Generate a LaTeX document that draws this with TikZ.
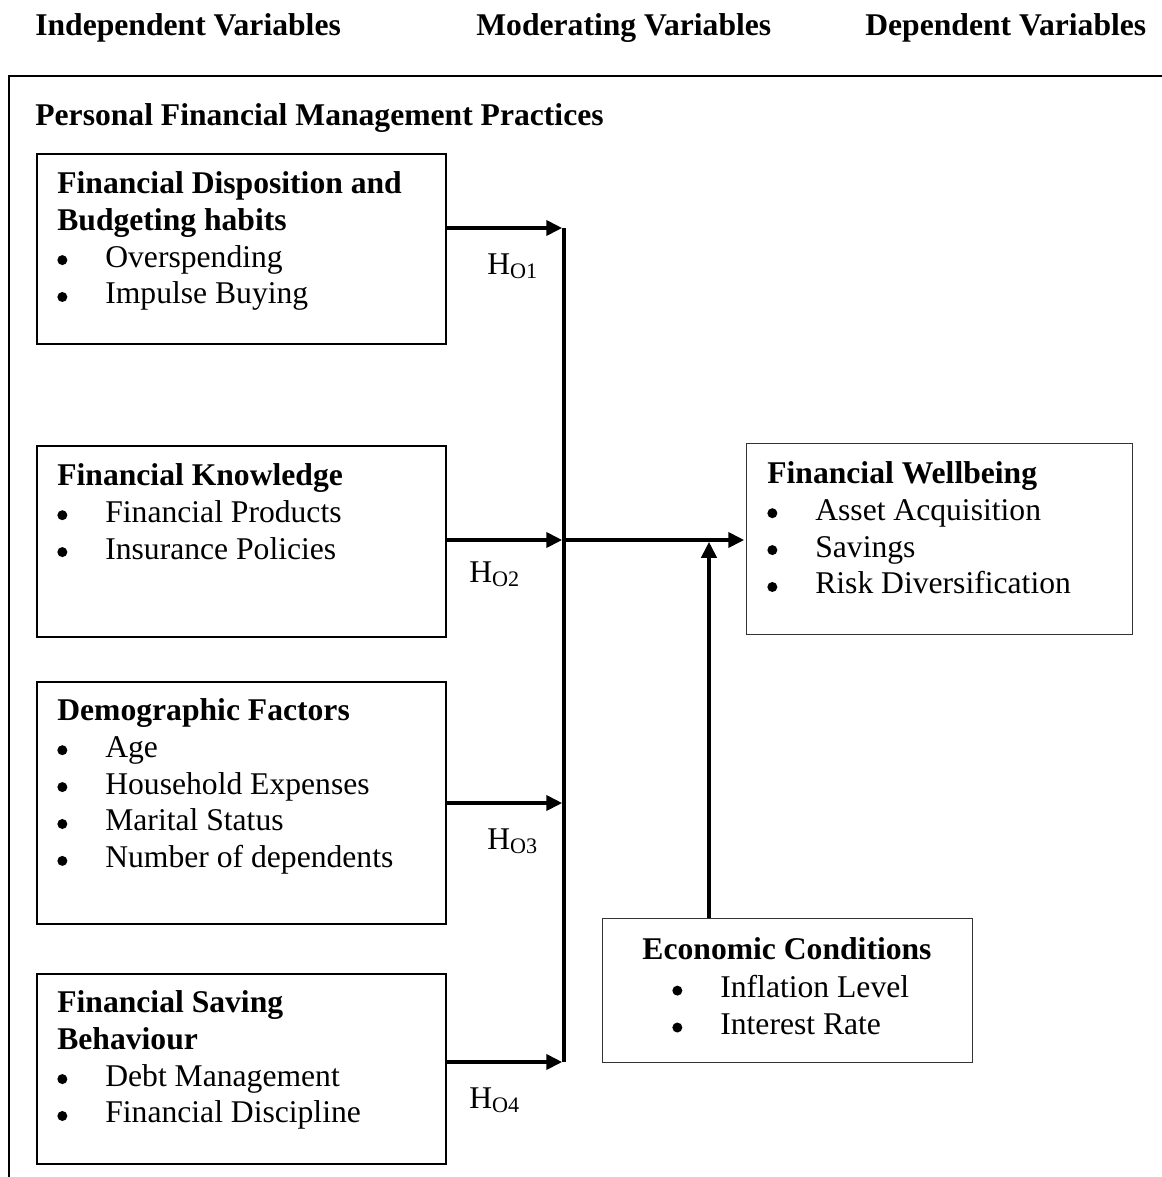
\documentclass[tikz,border=0pt]{standalone}
\usepackage{fontspec}
\setmainfont{Liberation Serif}
\usetikzlibrary{arrows.meta}

\newcommand{\bdot}{\tikz[baseline=0pt]\fill (0.1cm,0.14cm) circle (0.1cm);}
\newcommand{\bitem}[1]{\makebox[0.96cm][l]{\bdot}#1}

\begin{document}
\begin{tikzpicture}[x=0.02cm,y=-0.02cm,
  every node/.style={font=\fontsize{18}{21}\selectfont},
  head/.style={anchor=base west,inner sep=0pt,font=\fontsize{18}{21}\selectfont\bfseries},
  box/.style={draw,line width=1.3pt,anchor=north west,inner sep=0pt,minimum width=8.18cm},
  rbox/.style={draw=black!80,line width=0.8pt,anchor=north west,inner sep=0pt},
  txt/.style={anchor=north west,inner sep=0pt,align=left},
  arr/.style={line width=2.2pt,shorten >=1pt,-{Triangle[length=0.32cm,width=0.3cm]}},
  hyp/.style={anchor=base west,inner sep=0pt}]
            \useasboundingbox (0,0) rectangle (1162,1177);
            % column heads
            \node[head] (indep) at (35,35) {Independent Variables};
            \node[head] (moder) at (476,35) {Moderating Variables};
            \node[head] (depen) at (865,35) {Dependent Variables};
            % outer frame
            \draw[line width=1.5pt] (9,1190) -- (9,76) -- (1175,76);
            \node[head] (pfmp) at (35,125) {Personal Financial Management Practices};
            % independent variables
            \node[box,minimum height=3.8cm] (disp) at (36,153) {};
            \node[txt] (dispT) at (57,171) {\textbf{Financial Disposition and}\\\textbf{Budgeting habits}\\\bitem{Overspending}\\\bitem{Impulse Buying}};
            \node[box,minimum height=3.82cm] (know) at (36,445) {};
            \node[txt] (knowT) at (57,463) {\textbf{Financial Knowledge}\\\bitem{Financial Products}\\\bitem{Insurance Policies}};
            \node[box,minimum height=4.84cm] (demo) at (36,681) {};
            \node[txt] (demoT) at (57,698) {\textbf{Demographic Factors}\\\bitem{Age}\\\bitem{Household Expenses}\\\bitem{Marital Status}\\\bitem{Number of dependents}};
            \node[box,minimum height=3.8cm] (save) at (36,973) {};
            \node[txt] (saveT) at (57,990) {\textbf{Financial Saving}\\\textbf{Behaviour}\\\bitem{Debt Management}\\\bitem{Financial Discipline}};
            % dependent and moderating variables
            \node[rbox,minimum width=7.72cm,minimum height=3.82cm] (well) at (746,443) {};
            \node[txt] (wellT) at (767,461) {\textbf{Financial Wellbeing}\\\bitem{Asset Acquisition}\\\bitem{Savings}\\\bitem{Risk Diversification}};
            \node[rbox,minimum width=7.4cm,minimum height=2.88cm] (econ) at (602,918) {};
            \node[anchor=north,inner sep=0pt,font=\fontsize{18}{21}\selectfont\bfseries] (econT) at (787,937) {Economic Conditions};
            \node[txt] (econL) at (672,975) {\bitem{Inflation Level}\\\bitem{Interest Rate}};
            % connectors
            \coordinate (b1) at (564,228);
            \coordinate (b2) at (564,540);
            \coordinate (b3) at (564,803);
            \coordinate (b4) at (564,1062);
            \coordinate (m) at (709,540);
            \draw[line width=2.3pt] (b1) -- (b4);
            \draw[arr] (disp.east |- b1) -- (b1);
            \draw[arr] (know.east |- b2) -- (b2);
            \draw[arr] (demo.east |- b3) -- (b3);
            \draw[arr] (save.east |- b4) -- (b4);
            \draw[arr] (b2) -- (b2 -| well.west);
            \draw[arr] (m |- econ.north) -- (m);
            % hypotheses
            \node[hyp] (h1) at (487,274) {H\textsubscript{O1}};
            \node[hyp] (h2) at (469,582) {H\textsubscript{O2}};
            \node[hyp] (h3) at (487,849) {H\textsubscript{O3}};
            \node[hyp] (h4) at (469,1108) {H\textsubscript{O4}};
          \end{tikzpicture}
\end{document}
